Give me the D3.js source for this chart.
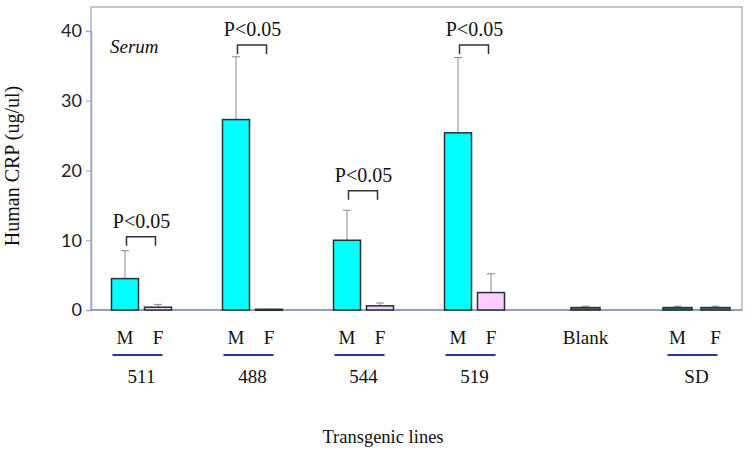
<!DOCTYPE html>
<html><head><meta charset="utf-8">
<script src="https://cdn.jsdelivr.net/npm/d3@7"></script>
<style>body{margin:0;background:#fff}svg{display:block}</style>
</head><body>
<svg id="c" width="751" height="454"></svg>
<script>
// ---- data ----
const groups = ["511", "488", "544", "519", "Blank", "SD"];
const barGroup = ["511", "511", "488", "488", "544", "544", "519", "519", "Blank", "SD", "SD"];
const barSex   = ["M", "F", "M", "F", "M", "F", "M", "F", "", "M", "F"];
const barValue = [4.5, 0.4, 27.3, 0.1, 10.0, 0.6, 25.4, 2.5, 0.35, 0.35, 0.35];
const barError = [8.5, 0.8, 36.3, 0.1, 14.3, 1.0, 36.2, 5.2, 0.55, 0.55, 0.55];
const sigGroups = ["511", "488", "544", "519"];
const sigLevel  = [10.5, 38.0, 17.1, 38.0];
const sigLabel  = "P<0.05";
const yTicks = [0, 10, 20, 30, 40];

const svg = d3.select("#c");
const L = 91, R = 742, T = 7, B = 310;
const y = d3.scaleLinear().domain([0, 40]).range([B, 31]);
const x = d3.scaleBand().domain(groups).range([86, 752]).padding(0);
const gc = g => x(g) + x.bandwidth() / 2;
const colors = {M: "#00ffff", F: "#ffccff"};
const special = {"Blank": "#6e6a60", "SDM": "#2b7a72", "SDF": "#7a6580"};

function barCenter(i) {
  const g = barGroup[i], s = barSex[i];
  if (g === "Blank") return gc(g);
  const off = g === "SD" ? 19 : 16.5;
  return gc(g) + (s === "M" ? -off : off);
}
function barWidth(i) { return (barGroup[i] === "Blank" || barGroup[i] === "SD") ? 29 : 27; }
function barFill(i) {
  const g = barGroup[i];
  if (g === "Blank") return special.Blank;
  if (g === "SD") return special["SD" + barSex[i]];
  return colors[barSex[i]];
}

// frame
svg.append("rect").attr("x", L).attr("y", T).attr("width", R - L).attr("height", B - T)
  .attr("fill", "none").attr("stroke", "#a9b7cc").attr("stroke-width", 1.5);

// y axis
const ya = svg.append("g").attr("transform", `translate(${L},0)`)
  .call(d3.axisLeft(y).tickValues(yTicks).tickSize(5).tickPadding(4));
ya.select(".domain").attr("stroke", "#9aaac4").attr("stroke-width", 1.5);
ya.selectAll(".tick line").attr("stroke", "#9aaac4");
ya.selectAll("text").attr("font-family", "Lato, 'Open Sans', sans-serif").attr("font-size", 18).attr("fill", "#222");

// bottom axis line
svg.append("line").attr("x1", L).attr("x2", R).attr("y1", B).attr("y2", B)
  .attr("stroke", "#7f93b5").attr("stroke-width", 1.5);

const idx = d3.range(barValue.length);

// error bars
const eg = svg.append("g").attr("stroke", "#8a8a8a").attr("stroke-width", 1);
idx.forEach(i => {
  const cx = barCenter(i);
  eg.append("line").attr("x1", cx).attr("x2", cx).attr("y1", y(barValue[i])).attr("y2", y(barError[i]));
  eg.append("line").attr("x1", cx - 4).attr("x2", cx + 4).attr("y1", y(barError[i])).attr("y2", y(barError[i]));
});

// bars
svg.append("g").selectAll("rect").data(idx).join("rect")
  .attr("x", i => barCenter(i) - barWidth(i) / 2)
  .attr("width", i => barWidth(i))
  .attr("y", i => y(barValue[i]))
  .attr("height", i => Math.max(1, y(0) - y(barValue[i])))
  .attr("fill", i => barFill(i))
  .attr("stroke", "#223333").attr("stroke-width", 1.5);

// significance brackets
const serif = "'Liberation Serif', 'Times New Roman', serif";
sigGroups.forEach((g, k) => {
  const yy = y(sigLevel[k]);
  const x1 = gc(g) - 15, x2 = gc(g) + 14;
  svg.append("path").attr("d", `M${x1},${yy + 9}V${yy}H${x2}V${yy + 9}`)
    .attr("fill", "none").attr("stroke", "#333").attr("stroke-width", 1.5);
  svg.append("text").attr("x", gc(g)).attr("y", yy - 9).attr("text-anchor", "middle")
    .attr("font-family", serif).attr("font-size", 20).attr("fill", "#111").text(sigLabel);
});

// x labels
idx.forEach(i => {
  if (barSex[i]) {
    svg.append("text").attr("x", barCenter(i)).attr("y", 344).attr("text-anchor", "middle")
      .attr("font-family", serif).attr("font-size", 19).attr("fill", "#111").text(barSex[i]);
  }
});
groups.forEach(g => {
  if (g === "Blank") {
    svg.append("text").attr("x", gc(g)).attr("y", 344).attr("text-anchor", "middle")
      .attr("font-family", serif).attr("font-size", 19).attr("fill", "#111").text(g);
  } else {
    svg.append("line").attr("x1", gc(g) - 29).attr("x2", gc(g) + 21)
      .attr("y1", 355).attr("y2", 355).attr("stroke", "#2b3a8c").attr("stroke-width", 2);
    svg.append("text").attr("x", gc(g)).attr("y", 383).attr("text-anchor", "middle")
      .attr("font-family", serif).attr("font-size", 19).attr("fill", "#111").text(g);
  }
});

// serum
svg.append("text").attr("x", 110).attr("y", 53).attr("font-family", serif)
  .attr("font-style", "italic").attr("font-size", 19).attr("fill", "#111").text("Serum");

// axis titles
svg.append("text").attr("transform", "translate(19,166) rotate(-90)").attr("text-anchor", "middle")
  .attr("font-family", serif).attr("font-size", 20).attr("fill", "#111").text("Human CRP (ug/ul)");
svg.append("text").attr("x", 383).attr("y", 443).attr("text-anchor", "middle")
  .attr("font-family", serif).attr("font-size", 18.5).attr("fill", "#111").text("Transgenic lines");
</script>
</body></html>
